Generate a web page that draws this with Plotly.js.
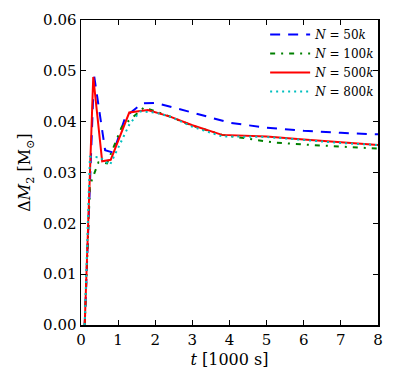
<!DOCTYPE html>
<html>
<head>
<meta charset="utf-8">
<script src="https://cdn.plot.ly/plotly-3.0.1.min.js"></script>
<style>
  html, body { margin: 0; padding: 0; background: #fff; }
  #container { width: 395px; height: 383px; }
</style>
</head>
<body>
<div id="container"></div>
<script>
// time in units of 1000 s, mass loss in solar masses
const t50k = [0.1, 0.35, 0.65, 0.87, 1.2, 1.65, 2.0, 2.5, 3.0, 3.5, 4.0, 5.0, 6.0, 7.0, 8.0];
const m50k = [0, 0.0492, 0.0344, 0.0339, 0.041, 0.0436, 0.0437, 0.0428, 0.0418, 0.0408, 0.0398, 0.0388, 0.0382, 0.0378, 0.0375];

const t100k = [0.1, 0.24, 0.47, 0.7, 1.1, 1.7, 2.4, 3.0, 3.8, 4.6, 5.2, 6.0, 7.0, 8.0];
const m100k = [0, 0.0275, 0.032, 0.0318, 0.039, 0.0428, 0.041, 0.0392, 0.0374, 0.0366, 0.0359, 0.0355, 0.0351, 0.0347];

const t500k = [0.1, 0.33, 0.57, 0.8, 1.3, 1.8, 2.4, 3.0, 3.8, 5.0, 6.0, 7.0, 8.0];
const m500k = [0, 0.0488, 0.0322, 0.0325, 0.0418, 0.0423, 0.041, 0.0393, 0.0374, 0.0371, 0.0365, 0.0359, 0.0354];

const t800k = [0.1, 0.24, 0.5, 0.78, 1.32, 1.6, 2.0, 2.4, 3.0, 3.8, 5.0, 6.0, 7.0, 8.0];
const m800k = [0, 0.0331, 0.033, 0.0315, 0.0397, 0.042, 0.0418, 0.041, 0.039, 0.0371, 0.037, 0.0364, 0.0358, 0.0354];

const labels = ["<i>N</i> = 50<i>k</i>", "<i>N</i> = 100<i>k</i>", "<i>N</i> = 500<i>k</i>", "<i>N</i> = 800<i>k</i>"];

const serif = "'DejaVu Serif', serif";

const traces = [
    {x: t50k, y: m50k, name: labels[0], line: {color: "#0000ff", width: 2, dash: "10px,8px"}},
    {x: t100k, y: m100k, name: labels[1], line: {color: "#008000", width: 2, dash: "5px,6px,2px,6px"}},
    {x: t500k, y: m500k, name: labels[2], line: {color: "#ff0000", width: 2}},
    {x: t800k, y: m800k, name: labels[3], line: {color: "#00bfbf", width: 2, dash: "2px,4px"}}
].map(tr => Object.assign({type: "scatter", mode: "lines"}, tr));

const axisBase = {
    showgrid: false,
    zeroline: false,
    showline: true,
    linecolor: "#000",
    linewidth: 1.5,
    mirror: "ticks",
    ticks: "inside",
    ticklen: 5,
    tickwidth: 1,
    tickcolor: "#000",
    tickfont: {family: serif, size: 15, color: "#000"}
};

const layout = {
    width: 395,
    height: 383,
    margin: {l: 81, r: 17, t: 20, b: 58},
    paper_bgcolor: "#fff",
    plot_bgcolor: "#fff",
    showlegend: true,
    legend: {
        x: 0.62, y: 1.0, xanchor: "left", yanchor: "top",
        bgcolor: "rgba(0,0,0,0)",
        font: {family: serif, size: 12, color: "#000"},
        itemwidth: 40,
        tracegroupgap: 0
    },
    xaxis: Object.assign({}, axisBase, {
        range: [0, 8],
        dtick: 1,
        tick0: 0,
        title: {text: "<i>t</i> [1000 s]", font: {family: serif, size: 16, color: "#000"}, standoff: 6}
    }),
    yaxis: Object.assign({}, axisBase, {
        range: [0, 0.06],
        dtick: 0.01,
        tick0: 0,
        tickformat: ".2f",
        title: {text: "Δ<i>M</i><sub>2</sub> [M<sub>⊙</sub>]", font: {family: serif, size: 16, color: "#000"}, standoff: 8}
    })
};

Plotly.newPlot("container", traces, layout, {displayModeBar: false, staticPlot: true});
</script>
</body>
</html>
